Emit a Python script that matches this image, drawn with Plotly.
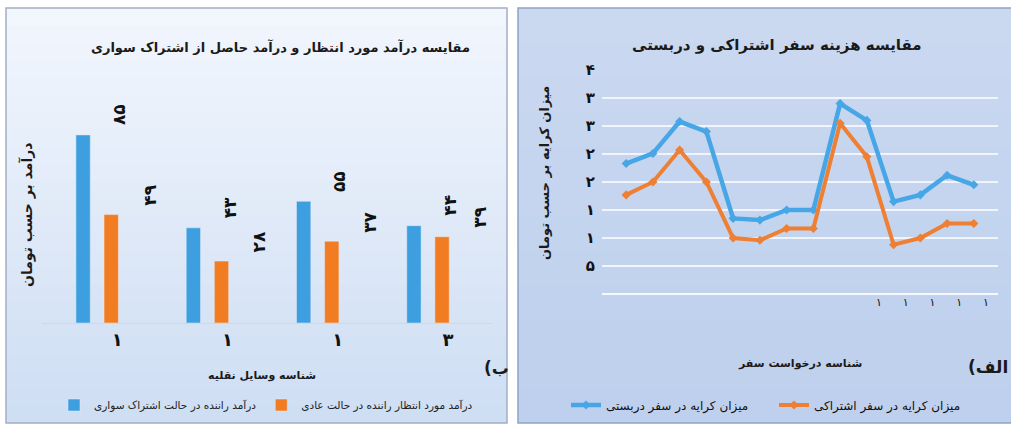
import plotly.graph_objects as go

W, H = 1011, 426
FONT = "DejaVu Sans"

# ---------------- Left chart (ب): income comparison ----------------
vehicles = ["V1", "V2", "V3", "V4"]
vehicle_tick_labels = ["۱", "۱", "۱", "۳"]
income_shared = [85, 43, 55, 44]   # درآمد راننده در حالت اشتراک سواری
income_normal = [49, 28, 37, 39]   # درآمد مورد انتظار راننده در حالت عادی
name_shared = "درآمد راننده در حالت اشتراک سواری"
name_normal = "درآمد مورد انتظار راننده در حالت عادی"

# ---------------- Right chart (الف): fare comparison ----------------
trips = ["T%d" % i for i in range(1, 15)]
trip_tick_labels = ["", "", "", "", "", "", "", "", "", "۱", "۱", "۱", "۱", "۱"]
fare_private = [2330, 2510, 3080, 2900, 1350, 1320, 1500, 1500, 3400, 3100, 1650, 1770, 2120, 1950]
fare_shared = [1770, 2000, 2570, 2000, 1000, 960, 1170, 1170, 3050, 2450, 880, 1000, 1260, 1260]
name_private = "میزان کرایه در سفر دربستی"
name_shared_fare = "میزان کرایه در سفر اشتراکی"
fare_tickvals = [0, 500, 1000, 1500, 2000, 2500, 3000, 3500, 4000]
fare_ticktext = ["", "۵", "۱", "۱", "۲", "۲", "۳", "۳", "۴"]

BLUE = "#3d9fe0"
ORANGE = "#f27c22"
LBLUE = "#47a6e6"
LORANGE = "#ee7f33"

FA = str.maketrans("0123456789", "۰۱۲۳۴۵۶۷۸۹")


def fa(n):
    return str(n).translate(FA)


def bold(lst):
    return ["<b>%s</b>" % s if s else "" for s in lst]


def px(x):
    return x / W


def py(y):
    return (H - y) / H


fig = go.Figure()

fig.add_trace(go.Bar(x=vehicles, y=income_shared, name=name_shared, marker_color=BLUE,
                     xaxis="x", yaxis="y", legend="legend"))
fig.add_trace(go.Bar(x=vehicles, y=income_normal, name=name_normal, marker_color=ORANGE,
                     xaxis="x", yaxis="y", legend="legend"))

fig.add_trace(go.Scatter(x=trips, y=fare_private, name=name_private, mode="lines+markers",
                         line=dict(color=LBLUE, width=4.5), marker=dict(size=7, symbol="diamond", color=LBLUE),
                         xaxis="x2", yaxis="y2", legend="legend2"))
fig.add_trace(go.Scatter(x=trips, y=fare_shared, name=name_shared_fare, mode="lines+markers",
                         line=dict(color=LORANGE, width=4), marker=dict(size=7, symbol="diamond", color=LORANGE),
                         xaxis="x2", yaxis="y2", legend="legend2"))

shapes = []
# left panel gradient background (overlapping bands to avoid seams)
n = 24
y0, y1 = 8, 423
c_top = (242, 246, 253)
c_bot = (206, 222, 243)
for i in range(n):
    t = i / (n - 1)
    c = tuple(int(round(c_top[k] + (c_bot[k] - c_top[k]) * t)) for k in range(3))
    ya = y0 + (y1 - y0) * i / n
    yb = min(y1, y0 + (y1 - y0) * (i + 1) / n + 2)
    shapes.append(dict(type="rect", xref="paper", yref="paper", x0=px(6), x1=px(507), y0=py(yb), y1=py(ya),
                       fillcolor="rgb(%d,%d,%d)" % c, line=dict(width=0), layer="below"))
shapes.append(dict(type="rect", xref="paper", yref="paper", x0=px(6), x1=px(507), y0=py(423), y1=py(8),
                   fillcolor="rgba(0,0,0,0)", line=dict(color="#a3aec4", width=1.5), layer="below"))
# right panel background
n2 = 12
r_top = (202, 216, 240)
r_bot = (190, 208, 237)
for i in range(n2):
    t = i / (n2 - 1)
    c = tuple(int(round(r_top[k] + (r_bot[k] - r_top[k]) * t)) for k in range(3))
    ya = y0 + (y1 - y0) * i / n2
    yb = min(y1, y0 + (y1 - y0) * (i + 1) / n2 + 2)
    shapes.append(dict(type="rect", xref="paper", yref="paper", x0=px(518), x1=px(1011), y0=py(yb), y1=py(ya),
                       fillcolor="rgb(%d,%d,%d)" % c, line=dict(width=0), layer="below"))
shapes.append(dict(type="rect", xref="paper", yref="paper", x0=px(518), x1=px(1012), y0=py(423), y1=py(8),
                   fillcolor="rgba(0,0,0,0)", line=dict(color="#8ea2c6", width=1.5), layer="below"))

annotations = []
# data labels for bars (rotated, offset to the right of each bar)
for i, v in enumerate(income_shared):
    annotations.append(dict(x=vehicles[i], y=v, xref="x", yref="y", text="<b>%s</b>" % fa(v), textangle=-90,
                            showarrow=False, xshift=22, yshift=20, xanchor="center", yanchor="middle",
                            font=dict(family=FONT, size=17, color="#111")))
for i, v in enumerate(income_normal):
    annotations.append(dict(x=vehicles[i], y=v, xref="x", yref="y", text="<b>%s</b>" % fa(v), textangle=-90,
                            showarrow=False, xshift=52, yshift=19, xanchor="center", yanchor="middle",
                            font=dict(family=FONT, size=17, color="#111")))


def txt(x, y, s, size, angle=0, anchor="center"):
    annotations.append(dict(x=px(x), y=py(y), xref="paper", yref="paper", text=s, showarrow=False,
                            textangle=angle, xanchor=anchor, yanchor="middle",
                            font=dict(family=FONT, size=size, color="#1a1a1a")))


txt(280, 47, "<b>مقایسه درآمد مورد انتظار و درآمد حاصل از اشتراک سواری</b>", 13)
txt(27, 215, "<b>درآمد بر حسب تومان</b>", 14, -90)
txt(262, 375, "<b>شناسه وسایل نقلیه</b>", 11)
txt(496, 368, "<b>(ب</b>", 17)
txt(777, 45, "<b>مقایسه هزینه سفر اشتراکی و دربستی</b>", 15)
txt(544, 173, "<b>میزان کرایه بر حسب تومان</b>", 13, -90)
txt(800, 363, "<b>شناسه درخواست سفر</b>", 11)
txt(1010, 367, "<b>(الف</b>", 17, anchor="right")

fig.update_layout(
    width=W, height=H,
    margin=dict(l=0, r=0, t=0, b=0, autoexpand=False),
    paper_bgcolor="white",
    plot_bgcolor="rgba(0,0,0,0)",
    barmode="group", bargap=0.49, bargroupgap=0.49,
    showlegend=True,
    shapes=shapes,
    annotations=annotations,
    xaxis=dict(domain=[px(42), px(492)], anchor="y", type="category", automargin=False,
               tickvals=vehicles, ticktext=bold(vehicle_tick_labels), ticklabelshift=20,
               tickfont=dict(family=FONT, size=18, color="#111"),
               showgrid=False, zeroline=False, showline=True, linecolor="#d4d8de", linewidth=1,
               ticks=""),
    yaxis=dict(domain=[py(323), py(90)], anchor="x", range=[0, 105.3], automargin=False,
               showticklabels=False, showgrid=False, zeroline=False, showline=False),
    xaxis2=dict(domain=[px(602), px(998)], anchor="y2", type="category", automargin=False,
                tickvals=trips, ticktext=trip_tick_labels, ticklabelshift=12,
                tickfont=dict(family=FONT, size=11, color="#111"),
                showgrid=False, zeroline=False, showline=False, ticks=""),
    yaxis2=dict(domain=[py(294), py(70)], anchor="x2", range=[0, 4000], automargin=False,
                tickvals=fare_tickvals, ticktext=bold(fare_ticktext), ticklabelstandoff=6,
                tickfont=dict(family=FONT, size=15, color="#111"),
                showgrid=True, gridcolor="rgba(255,255,255,0.75)", gridwidth=2,
                zeroline=True, zerolinecolor="rgba(255,255,255,0.85)", zerolinewidth=2,
                showline=False, ticks=""),
    legend=dict(orientation="h", x=px(54), xanchor="left", y=py(405), yanchor="middle",
                bgcolor="rgba(0,0,0,0)", font=dict(family=FONT, size=10.5, color="#222"),
                itemwidth=30, traceorder="normal"),
    legend2=dict(orientation="h", x=px(566), xanchor="left", y=py(405), yanchor="middle",
                 bgcolor="rgba(0,0,0,0)", font=dict(family=FONT, size=12, color="#111"),
                 itemwidth=30, traceorder="normal", entrywidth=163),
)

fig.write_html("out.html", config={"displayModeBar": False},
               post_script="document.body.style.margin='0';")
